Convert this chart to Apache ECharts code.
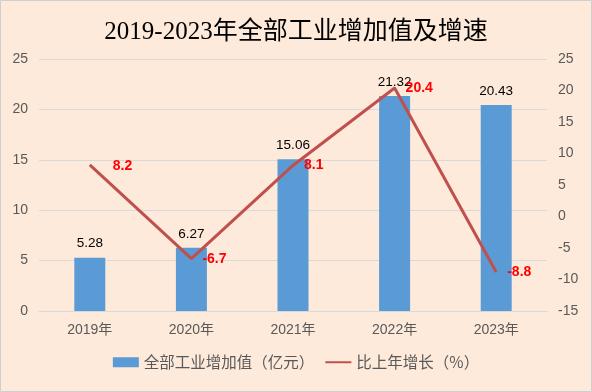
<!DOCTYPE html>
<html><head><meta charset="utf-8">
<script src="https://cdn.jsdelivr.net/npm/echarts@6/dist/echarts.min.js"></script>
<style>html,body{margin:0;padding:0;}#c{width:592px;height:392px;}</style>
</head><body><div id="c"></div>
<script>
const categories = ['2019年','2020年','2021年','2022年','2023年'];
const valueAdded = [5.28, 6.27, 15.06, 21.32, 20.43];
const growth = [8.2, -6.7, 8.1, 20.4, -8.8];
const seriesNames = ['全部工业增加值（亿元）', '比上年增长（%）'];
const titleText = '2019-2023年全部工业增加值及增速';

const chart = echarts.init(document.getElementById('c'), null, {renderer:'canvas'});
const axisLabelStyle = {color:'#595959', fontSize:14, fontFamily:'Liberation Sans, Noto Sans CJK SC'};
chart.setOption({
  backgroundColor:'#FDEADA',
  animation:false,
  title:{text:titleText, left:'center', top:15,
    textStyle:{fontSize:25, fontWeight:'normal', color:'#000', fontFamily:'Liberation Serif, Noto Sans CJK SC'}},
  graphic:[{type:'rect', shape:{x:0.5,y:0.5,width:591,height:391}, style:{fill:'none', stroke:'#D0D0D0', lineWidth:1}, silent:true}],
  grid:{left:39, right:45, top:59, bottom:81},
  legend:{bottom:17, left:'center', itemGap:10, itemWidth:26, itemHeight:10,
    textStyle:{fontSize:15.5, color:'#595959', fontFamily:'Noto Sans CJK SC'},
    data:[{name:seriesNames[0], icon:'rect'}, {name:seriesNames[1], itemStyle:{opacity:0}}]},
  xAxis:{type:'category', data:categories,
    axisLine:{lineStyle:{color:'#D9D9D9'}}, axisTick:{show:false},
    axisLabel:Object.assign({margin:12}, axisLabelStyle)},
  yAxis:[
    {type:'value', min:0, max:25, interval:5, axisLine:{show:false}, axisTick:{show:false},
     splitLine:{lineStyle:{color:'#D9D9D9'}}, axisLabel:Object.assign({margin:11}, axisLabelStyle)},
    {type:'value', min:-15, max:25, interval:5, axisLine:{show:false}, axisTick:{show:false},
     splitLine:{show:false}, axisLabel:Object.assign({margin:11}, axisLabelStyle)}
  ],
  series:[
    {name:seriesNames[0], type:'bar', data:valueAdded, barWidth:31, yAxisIndex:0,
     itemStyle:{color:'#5B9BD5'},
     label:{show:true, position:'top', distance:7, color:'#000', fontSize:13.5, fontFamily:'Liberation Sans'}},
    {name:seriesNames[1], type:'line', data:growth.map((v,i)=> i===0 ? {value:v, label:{offset:[12,1]}} : v),
     yAxisIndex:1, symbol:'circle', symbolSize:0, showSymbol:true, lineStyle:{color:'#C0504D', width:3}, itemStyle:{color:'#C0504D'},
     label:{show:true, position:'right', distance:11, color:'#FF0000', fontWeight:'bold', fontSize:14, fontFamily:'Liberation Sans'}}
  ]
});
</script></body></html>
